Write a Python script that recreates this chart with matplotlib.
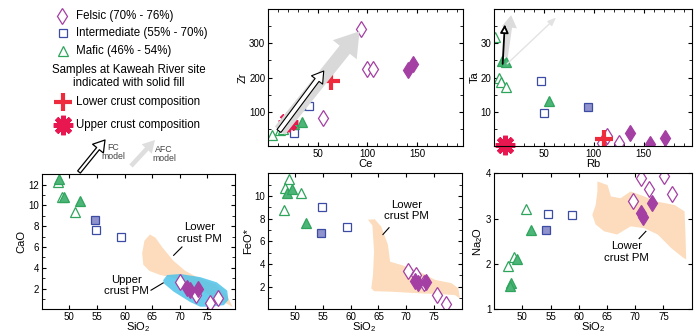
import matplotlib
matplotlib.use("Agg")
import matplotlib.pyplot as plt
from matplotlib.patches import Polygon
from matplotlib.ticker import MultipleLocator

# ---- data ----
# Ce vs Zr
ce_fel_open = [93, 100, 106, 55]
zr_fel_open = [343, 226, 226, 82]
ce_fel_fill = [141, 146]
zr_fel_fill = [221, 239]
ce_int_open = [41, 26]
zr_int_open = [116, 39]
ce_maf_open = [4, 12, 15]
zr_maf_open = [32, 47, 49]
ce_maf_fill = [34, 31, 26]
zr_maf_fill = [69, 120, 63]
ce_upper, zr_upper = [20], [70]
ce_lower, zr_lower = [63], [190]

# Rb vs Ta
rb_fel_open = [108, 113, 125]
ta_fel_open = [1.0, 2.8, 0.9]
rb_fel_fill = [136, 156, 171]
ta_fel_fill = [3.8, 0.6, 2.4]
rb_int_open = [47, 50]
ta_int_open = [18.9, 9.6]
rb_int_fill = [94]
ta_int_fill = [11.4]
rb_maf_open = [1, 5, 7, 12]
ta_maf_open = [31.8, 19.8, 18.8, 17.2]
rb_maf_fill = [8, 12, 55]
ta_maf_fill = [24.7, 24.4, 13.3]
rb_upper, ta_upper = [11], [0.4]
rb_lower, ta_lower = [110], [2.0]

# SiO2 vs CaO
si_cao_fel_open = [70.1, 73.0, 75.5, 76.9]
cao_fel_open = [2.6, 1.4, 0.65, 1.05]
si_cao_fel_fill = [71.4, 71.8, 73.3]
cao_fel_fill = [2.05, 1.9, 2.0]
si_cao_int_open = [54.9, 59.4]
cao_int_open = [7.6, 7.0]
si_cao_int_fill = [54.7]
cao_int_fill = [8.6]
si_cao_maf_open = [47.9, 48.7, 51.1]
cao_maf_open = [12.25, 10.8, 9.4]
si_cao_maf_fill = [48.2, 49.1, 51.9]
cao_maf_fill = [12.5, 10.8, 10.4]

# SiO2 vs FeO*
si_feo_fel_open = [70.25, 71.75, 73.25, 75.6, 77.1]
feo_fel_open = [3.4, 3.0, 2.3, 1.3, 0.45]
si_feo_fel_fill = [71.6, 72.1, 73.5]
feo_fel_fill = [2.5, 2.35, 2.4]
si_feo_int_open = [54.8, 59.3]
feo_int_open = [9.0, 7.3]
si_feo_int_fill = [54.7]
feo_int_fill = [6.75]
si_feo_maf_open = [48.8, 48.2, 47.9, 51.1]
feo_maf_open = [11.5, 10.7, 8.8, 10.3]
si_feo_maf_fill = [48.5, 49.4, 52.0]
feo_maf_fill = [10.3, 10.6, 7.6]

# SiO2 vs Na2O
si_na_fel_open = [71.1, 75.05, 72.5, 69.7, 76.5]
na_fel_open = [3.9, 3.95, 3.65, 3.38, 3.54]
si_na_fel_fill = [71.0, 71.4, 72.9]
na_fel_fill = [3.13, 3.03, 3.35]
si_na_int_open = [54.5, 58.8]
na_int_open = [3.1, 3.07]
si_na_int_fill = [54.2]
na_int_fill = [2.76]
si_na_maf_open = [50.6, 48.5, 47.5]
na_maf_open = [3.21, 2.15, 1.95]
si_na_maf_fill = [51.55, 49.0, 48.0, 47.8]
na_maf_fill = [2.76, 2.12, 1.57, 1.51]

# crustal fields (outlines)
lower_cao_x = [64.6, 63.6, 63.2, 63.4, 64.5, 66.5, 69.0, 72.0, 75.0, 77.5, 79.0, 79.6,
               78.6, 76.5, 73.5, 71.0, 68.8, 66.8, 65.6]
lower_cao_y = [7.2, 6.6, 5.4, 4.3, 3.7, 3.3, 3.0, 2.3, 1.5, 0.8, 0.4, 0.2,
               1.3, 2.4, 3.0, 3.7, 4.7, 6.0, 6.9]
upper_cao_x = [67.0, 67.7, 70.1, 73.7, 76.7, 78.6, 78.8, 78.0, 75.5, 73.7, 71.9, 68.9, 67.1]
upper_cao_y = [2.8, 3.3, 3.4, 3.1, 2.6, 1.8, 0.9, 0.4, 0.25, 0.25, 0.7, 1.7, 2.5]
lower_feo_x = [63.1, 63.9, 64.2, 64.0, 63.7, 64.2, 67.4, 72.8, 76.0, 78.8, 79.7, 79.4,
               78.2, 75.2, 72.5, 69.2, 67.1, 66.7, 65.5, 64.3]
lower_feo_y = [7.9, 7.4, 5.1, 3.0, 1.85, 1.6, 1.55, 1.4, 1.35, 1.25, 0.95, 1.85,
               2.3, 2.6, 3.3, 3.9, 4.2, 5.7, 7.3, 7.95]
lower_na_x = [63.3, 65.1, 65.7, 67.4, 69.2, 71.6, 73.7, 77.0, 78.75, 78.9, 79.05, 78.4,
              76.4, 74.0, 71.6, 69.2, 66.8, 64.5, 63.0, 62.4, 63.0, 63.3]
lower_na_y = [3.82, 3.74, 3.49, 3.45, 3.6, 3.49, 3.38, 3.3, 3.16, 2.72, 2.1, 2.15,
              2.35, 2.65, 2.79, 2.83, 2.65, 2.72, 2.87, 3.08, 3.3, 3.6]

# ---- style ----
FEL = "#a43fa3"
INT = "#3c4ba4"
INT_FILL = "#8f92cc"
MAF = "#2ea45c"
MAF_FILL = "#4cb577"
CROSS = "#ee2a3d"
STAR = "#e8174f"
PEACH = "#fcdcbc"
CYAN = "#4fc3ea"
ASTER = (8, 2, 0)

plt.rcParams.update({
    "font.family": "Liberation Sans",
    "font.size": 8,
    "mathtext.fontset": "custom",
    "mathtext.rm": "Liberation Sans",
    "mathtext.it": "Liberation Sans:italic",
    "xtick.direction": "in",
    "ytick.direction": "in",
    "xtick.top": True,
    "ytick.right": True,
    "xtick.major.size": 3,
    "ytick.major.size": 3,
    "xtick.minor.size": 2,
    "ytick.minor.size": 2,
    "xtick.major.pad": 2,
    "ytick.major.pad": 2,
    "xtick.labelsize": 7,
    "ytick.labelsize": 7,
    "axes.linewidth": 0.8,
})


def draw_samples(ax, fo, ff, io, ifl, mo, mf):
    # open symbols first, filled (Kaweah River) on top
    ax.plot(*fo, ls="none", marker="d", ms=7.8, mfc="white", mec=FEL, mew=0.9)
    ax.plot(*io, ls="none", marker="s", ms=5.2, mfc="white", mec=INT, mew=0.9)
    ax.plot(*mo, ls="none", marker="^", ms=6.5, mfc="white", mec=MAF, mew=0.9)
    ax.plot(*ff, ls="none", marker="d", ms=7.8, mfc=FEL, mec=FEL, mew=0.9)
    ax.plot(*ifl, ls="none", marker="s", ms=5.2, mfc=INT_FILL, mec=INT, mew=0.9)
    ax.plot(*mf, ls="none", marker="^", ms=6.5, mfc=MAF_FILL, mec=MAF, mew=0.9)


fig = plt.figure(figsize=(6.97, 3.35), dpi=100)

ax_ce = fig.add_axes([0.3845, 0.564, 0.2798, 0.409])
ax_rb = fig.add_axes([0.709, 0.564, 0.2832, 0.409])
ax_ca = fig.add_axes([0.0598, 0.0767, 0.2773, 0.403])
ax_fe = fig.add_axes([0.384, 0.0767, 0.2783, 0.406])
ax_na = fig.add_axes([0.709, 0.0767, 0.2832, 0.406])

# --- Ce vs Zr ---
ax_ce.annotate("", xy=(92, 335), xytext=(12, 45),
               arrowprops=dict(arrowstyle="simple,head_length=0.85,head_width=1.1,tail_width=0.47",
                               mutation_scale=20, fc="#d9d9d9", ec="none",
                               shrinkA=0, shrinkB=0))
draw_samples(ax_ce, (ce_fel_open, zr_fel_open), (ce_fel_fill, zr_fel_fill),
             (ce_int_open, zr_int_open), ([], []),
             (ce_maf_open, zr_maf_open), (ce_maf_fill, zr_maf_fill))
ax_ce.plot(ce_upper, zr_upper, ls="none", marker=ASTER, ms=14, mec=STAR, mew=3.4)
ax_ce.plot(ce_lower, zr_lower, ls="none", marker="+", ms=13, mec=CROSS, mew=3)
ax_ce.annotate("", xy=(56, 219), xytext=(11, 44),
               arrowprops=dict(arrowstyle="simple,head_length=0.8,head_width=1.0,tail_width=0.35",
                               mutation_scale=10, fc="white", ec="black", lw=0.8,
                               shrinkA=0, shrinkB=0))
ax_ce.set_xlim(0, 196)
ax_ce.set_ylim(0, 400)
ax_ce.set_xticks([50, 100, 150])
ax_ce.set_yticks([100, 200, 300])
ax_ce.xaxis.set_minor_locator(MultipleLocator(10))
ax_ce.yaxis.set_minor_locator(MultipleLocator(50))
ax_ce.set_xlabel("Ce", labelpad=0)
ax_ce.set_ylabel("Zr", labelpad=1)

# --- Rb vs Ta ---
ax_rb.annotate("", xy=(62, 37.5), xytext=(13, 24),
               arrowprops=dict(arrowstyle="-|>,head_length=0.6,head_width=0.25",
                               color="#e3e3e3", lw=1.0, shrinkA=0, shrinkB=0))
ax_rb.annotate("", xy=(17, 38.2), xytext=(11, 26),
               arrowprops=dict(arrowstyle="simple,head_length=0.8,head_width=1.0,tail_width=0.35",
                               mutation_scale=11, fc="#dcdcdc", ec="none",
                               shrinkA=0, shrinkB=0))
draw_samples(ax_rb, (rb_fel_open, ta_fel_open), (rb_fel_fill, ta_fel_fill),
             (rb_int_open, ta_int_open), (rb_int_fill, ta_int_fill),
             (rb_maf_open, ta_maf_open), (rb_maf_fill, ta_maf_fill))
ax_rb.plot(rb_upper, ta_upper, ls="none", marker=ASTER, ms=14, mec=STAR, mew=3.4, clip_on=False)
ax_rb.plot(rb_lower, ta_lower, ls="none", marker="+", ms=13, mec=CROSS, mew=3)
ax_rb.annotate("", xy=(10.7, 35.5), xytext=(8.5, 24),
               arrowprops=dict(arrowstyle="-|>,head_length=0.6,head_width=0.3",
                               fc="white", ec="black", lw=1.3, shrinkA=0, shrinkB=0))
ax_rb.set_xlim(0, 198)
ax_rb.set_ylim(0, 40)
ax_rb.set_xticks([50, 100, 150])
ax_rb.set_yticks([10, 20, 30])
ax_rb.xaxis.set_minor_locator(MultipleLocator(10))
ax_rb.yaxis.set_minor_locator(MultipleLocator(5))
ax_rb.set_xlabel("Rb", labelpad=0)
ax_rb.set_ylabel("Ta", labelpad=1)

# --- SiO2 vs CaO ---
ax_ca.add_patch(Polygon(list(zip(lower_cao_x, lower_cao_y)), closed=True,
                        fc=PEACH, ec="none", joinstyle="round"))
ax_ca.add_patch(Polygon(list(zip(upper_cao_x, upper_cao_y)), closed=True,
                        fc=CYAN, ec="none", alpha=0.85))
draw_samples(ax_ca, (si_cao_fel_open, cao_fel_open), (si_cao_fel_fill, cao_fel_fill),
             (si_cao_int_open, cao_int_open), (si_cao_int_fill, cao_int_fill),
             (si_cao_maf_open, cao_maf_open), (si_cao_maf_fill, cao_maf_fill))
ax_ca.text(73.6, 7.35, "Lower\ncrust PM", ha="center", va="center", fontsize=8.2)
ax_ca.plot([70.4, 68.9], [6.0, 5.2], color="black", lw=0.8)
ax_ca.text(60.3, 2.3, "Upper\ncrust PM", ha="center", va="center", fontsize=8.2)
ax_ca.plot([64.8, 67.0], [1.84, 2.54], color="black", lw=0.8)
ax_ca.set_xlim(45, 80)
ax_ca.set_ylim(0, 13)
ax_ca.set_xticks([50, 55, 60, 65, 70, 75])
ax_ca.set_yticks([2, 4, 6, 8, 10, 12])
ax_ca.yaxis.set_minor_locator(MultipleLocator(1))
ax_ca.set_xlabel("SiO$_2$", labelpad=-1)
ax_ca.set_ylabel("CaO", labelpad=1)

# --- SiO2 vs FeO* ---
ax_fe.add_patch(Polygon(list(zip(lower_feo_x, lower_feo_y)), closed=True,
                        fc=PEACH, ec="none", joinstyle="round"))
draw_samples(ax_fe, (si_feo_fel_open, feo_fel_open), (si_feo_fel_fill, feo_fel_fill),
             (si_feo_int_open, feo_int_open), (si_feo_int_fill, feo_int_fill),
             (si_feo_maf_open, feo_maf_open), (si_feo_maf_fill, feo_maf_fill))
ax_fe.text(70.0, 8.7, "Lower\ncrust PM", ha="center", va="center", fontsize=8.2)
ax_fe.plot([66.9, 65.8], [7.2, 6.6], color="black", lw=0.8)
ax_fe.set_xlim(45, 80)
ax_fe.set_ylim(0, 12)
ax_fe.set_xticks([50, 55, 60, 65, 70, 75])
ax_fe.set_yticks([2, 4, 6, 8, 10])
ax_fe.yaxis.set_minor_locator(MultipleLocator(1))
ax_fe.set_xlabel("SiO$_2$", labelpad=-1)
ax_fe.set_ylabel("FeO*", labelpad=1)

# --- SiO2 vs Na2O ---
ax_na.add_patch(Polygon(list(zip(lower_na_x, lower_na_y)), closed=True,
                        fc=PEACH, ec="none", joinstyle="round"))
draw_samples(ax_na, (si_na_fel_open, na_fel_open), (si_na_fel_fill, na_fel_fill),
             (si_na_int_open, na_int_open), (si_na_int_fill, na_int_fill),
             (si_na_maf_open, na_maf_open), (si_na_maf_fill, na_maf_fill))
ax_na.text(68.4, 2.27, "Lower\ncrust PM", ha="center", va="center", fontsize=8.2)
ax_na.plot([71.9, 70.7], [2.72, 2.56], color="black", lw=0.8)
ax_na.set_xlim(45, 80)
ax_na.set_ylim(1, 4)
ax_na.set_xticks([50, 55, 60, 65, 70, 75])
ax_na.set_yticks([1, 2, 3, 4])
ax_na.set_xlabel("SiO$_2$", labelpad=-1)
ax_na.set_ylabel("Na$_2$O", labelpad=1)

# ---- legend block (figure pixel space overlay) ----
ov = fig.add_axes([0, 0, 1, 1], zorder=5)
ov.set_xlim(0, 697)
ov.set_ylim(335, 0)
ov.axis("off")

ov.plot([62], [15.7], marker="d", ms=7.8, mfc="white", mec=FEL, mew=0.9)
ov.plot([63], [33.3], marker="s", ms=5.2, mfc="white", mec=INT, mew=0.9)
ov.plot([62.7], [50.5], marker="^", ms=6.5, mfc="white", mec=MAF, mew=0.9)
ov.plot([63.3], [101.7], marker="+", ms=13, mec=CROSS, mew=3)
ov.plot([62.7], [125], marker=ASTER, ms=14, mec=STAR, mew=3.4)

legend_fs = 8.3
ov.text(76, 15.7, "Felsic (70% - 76%)", va="center", fontsize=legend_fs)
ov.text(76, 33.3, "Intermediate (55% - 70%)", va="center", fontsize=legend_fs)
ov.text(76, 50.7, "Mafic (46% - 54%)", va="center", fontsize=legend_fs)
ov.text(129, 76.5, "Samples at Kaweah River site\nindicated with solid fill",
        ha="center", va="center", fontsize=legend_fs, linespacing=1.15)
ov.text(76, 101.7, "Lower crust composition", va="center", fontsize=legend_fs)
ov.text(76, 125, "Upper crust composition", va="center", fontsize=legend_fs)

# model arrows
ov.annotate("", xy=(105, 140), xytext=(79, 172),
            arrowprops=dict(arrowstyle="simple,head_length=0.8,head_width=1.0,tail_width=0.25",
                            mutation_scale=10, fc="white", ec="black", lw=0.9,
                            shrinkA=0, shrinkB=0))
ov.annotate("", xy=(155, 140), xytext=(131, 166),
            arrowprops=dict(arrowstyle="simple,head_length=0.8,head_width=0.9,tail_width=0.3",
                            mutation_scale=11, fc="#dedede", ec="none",
                            shrinkA=0, shrinkB=0))
ov.text(113, 152, "FC\nmodel", ha="center", va="center", fontsize=6.3,
        color="#444444", linespacing=1.1)
ov.text(164, 154, "AFC\nmodel", ha="center", va="center", fontsize=6.3,
        color="#444444", linespacing=1.1)

fig.savefig("out.png", dpi=100)
